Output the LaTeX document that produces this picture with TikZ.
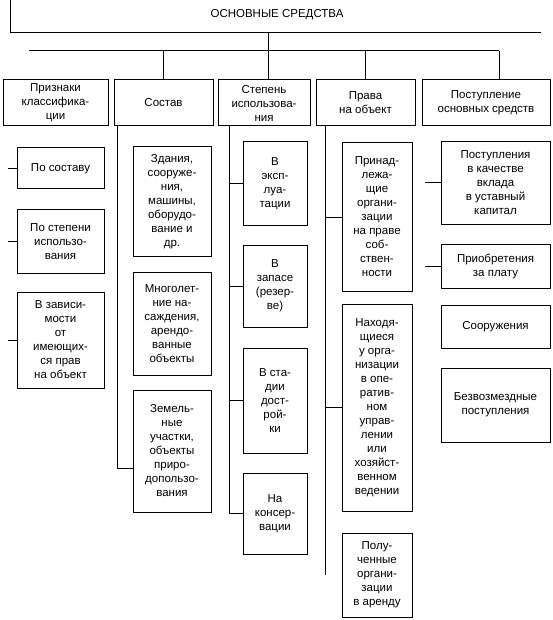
\documentclass[tikz,border=0pt]{standalone}
\usepackage{fontspec}
\setmainfont{Liberation Sans}
\begin{document}
\begin{tikzpicture}[x=1pt, y=-1pt, line width=1pt,
  txt/.style={font=\fontsize{11.5}{14}\selectfont},
  box/.style={draw, align=center, inner sep=0pt, txt},
  sz/.style 2 args={minimum width=#1pt, minimum height=#2pt}]
  \useasboundingbox (0,0) rectangle (553,620);

  \node[txt] (root) at (277,15) {ОСНОВНЫЕ СРЕДСТВА};
  \draw (10,0) |- (541,33);
  \coordinate (hub) at (268,33);
  \coordinate (bus) at (29,51);

  \node[box, sz={105}{46}] (b1) at (55.5,103) {Признаки\\ классифика-\\ ции};
  \node[box, sz={99}{46}] (b2) at (163.5,103) {Состав};
  \node[box, sz={92}{46}] (b3) at (264,103) {Степень\\ использова-\\ ния};
  \node[box, sz={99}{46}] (b4) at (365.5,103) {Права\\ на объект};
  \node[box, sz={128}{46}] (b5) at (486,103) {Поступление\\ основных средств};

  \draw (hub) -- (hub |- b3.north);
  \draw (bus) -- ([xshift=13pt]b5.north |- bus);
  \foreach \b/\dx in {b2/0, b4/0, b5/13}
    \draw ([xshift=\dx pt]\b.north) -- ([xshift=\dx pt]\b.north |- bus);

  \node[box, sz={87}{41}] (c1a) at (60.5,168.5) {По составу};
  \node[box, sz={87}{63}] (c1b) at (60.5,241.5) {По степени\\ использо-\\ вания};
  \node[box, sz={87}{96}] (c1c) at (60.5,340) {В зависи-\\ мости\\ от\\ имеющих-\\ ся прав\\ на объект};
  \foreach \n in {c1a,c1b,c1c}
    \draw (\n.west) -- +(-9,0);

  \node[box, sz={78}{109}] (c2a) at (172,201.5) {Здания,\\ сооруже-\\ ния,\\ машины,\\ оборудо-\\ вание и\\ др.};
  \node[box, sz={78}{103}] (c2b) at (172,323.5) {Многолет-\\ ние на-\\ саждения,\\ арендо-\\ ванные\\ объекты};
  \node[box, sz={78}{122}] (c2c) at (172,451) {Земель-\\ ные\\ участки,\\ объекты\\ приро-\\ допользо-\\ вания};
  \draw ([xshift=4pt]b2.south west) |- ([yshift=-17pt]c2c.west);

  \node[box, sz={64}{83}] (c3a) at (275,183.5) {В\\ эксп-\\ луа-\\ тации};
  \node[box, sz={64}{82}] (c3b) at (275,286) {В\\ запасе\\ (резер-\\ ве)};
  \node[box, sz={64}{105}] (c3c) at (275,400.5) {В ста-\\ дии\\ дост-\\ рой-\\ ки};
  \node[box, sz={64}{81}] (c3d) at (275,513.5) {На\\ консер-\\ вации};
  \coordinate (t3) at ([xshift=12pt]b3.south west);
  \draw (t3) |- (c3d.west);
  \foreach \n in {c3a,c3b,c3c}
    \draw (\n.west) -- (\n.west -| t3);

  \node[box, sz={70}{148}] (c4a) at (377,217) {Принад-\\ лежа-\\ щие\\ органи-\\ зации\\ на праве\\ соб-\\ ствен-\\ ности};
  \node[box, sz={70}{207}] (c4b) at (377,407.5) {Находя-\\ щиеся\\ у орга-\\ низации\\ в опе-\\ ратив-\\ ном\\ управ-\\ лении\\ или\\ хозяйст-\\ венном\\ ведении};
  \node[box, sz={70}{84}] (c4c) at (377,575) {Полу-\\ ченные\\ органи-\\ зации\\ в аренду};
  \coordinate (t4) at ([xshift=10pt]b4.south west);
  \draw (t4) -- (t4 |- c4c.west);
  \foreach \n in {c4a,c4b}
    \draw (\n.west) -- (\n.west -| t4);

  \node[box, sz={109}{82}] (c5a) at (495.5,183) {Поступления\\ в качестве\\ вклада\\ в уставный\\ капитал};
  \node[box, sz={109}{44}] (c5b) at (495.5,266) {Приобретения\\ за плату};
  \node[box, sz={109}{43}] (c5c) at (495.5,326.5) {Сооружения};
  \node[box, sz={109}{74}] (c5d) at (495.5,405) {Безвозмездные\\ поступления};
  \foreach \n in {c5a,c5b}
    \draw (\n.west) -- +(-16,0);
\end{tikzpicture}
\end{document}
